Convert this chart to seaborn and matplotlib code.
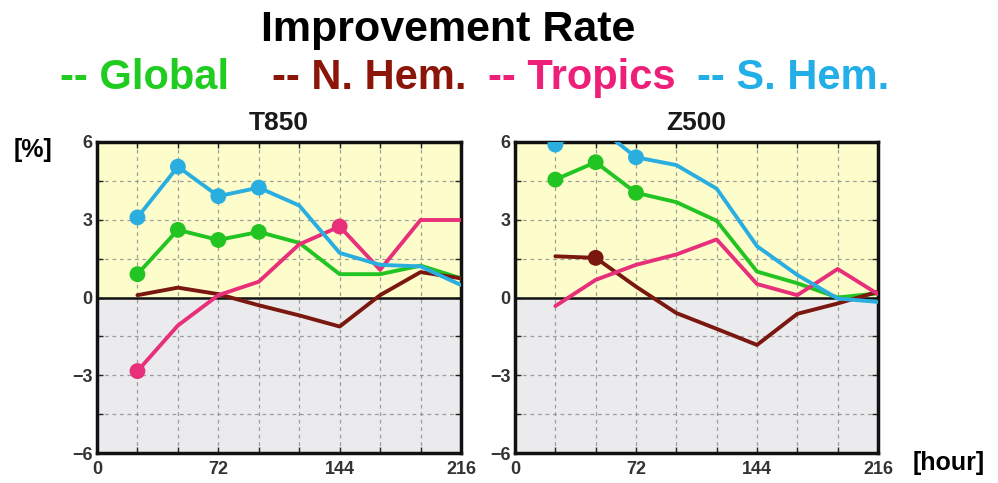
import matplotlib
matplotlib.use("Agg")
import matplotlib.pyplot as plt
import seaborn as sns
import pandas as pd
import numpy as np
from matplotlib.ticker import MultipleLocator

sns.set_theme(style="white")
plt.rcParams['font.family'] = ['Liberation Sans', 'DejaVu Sans']

hours = [24, 48, 72, 96, 120, 144, 168, 192, 216]
regions = ["Global", "N. Hem.", "Tropics", "S. Hem."]

t850_global = [0.9, 2.61, 2.22, 2.53, 2.11, 0.9, 0.9, 1.23, 0.74]
t850_nhem = [0.09, 0.38, 0.13, -0.3, -0.69, -1.12, 0.09, 0.98, 0.74]
t850_tropics = [-2.84, -1.08, 0.09, 0.61, 2.05, 2.74, 1.07, 2.99, 2.99]
t850_shem = [3.09, 5.05, 3.91, 4.24, 3.55, 1.72, 1.26, 1.2, 0.48]

z500_global = [4.55, 5.22, 4.04, 3.68, 2.96, 1.0, 0.55, 0.0, 0.16]
z500_nhem = [1.59, 1.53, 0.42, -0.6, -1.21, -1.83, -0.63, -0.23, 0.22]
z500_tropics = [-0.33, 0.68, 1.26, 1.66, 2.24, 0.52, 0.09, 1.1, 0.13]
z500_shem = [5.9, 6.65, 5.41, 5.11, 4.2, 1.98, 0.87, -0.04, -0.17]

# hours at which a dot is drawn
t850_markers = {"Global": [24, 48, 72, 96], "N. Hem.": [], "Tropics": [24, 144],
                "S. Hem.": [24, 48, 72, 96]}
z500_markers = {"Global": [24, 48, 72], "N. Hem.": [48], "Tropics": [],
                "S. Hem.": [24, 48, 72]}

panels = ["T850", "Z500"]
xticks = [0, 72, 144, 216]
yticks = [-6, -3, 0, 3, 6]

line_colors = {"Global": "#22c422", "N. Hem.": "#7a1810", "Tropics": "#e8307a", "S. Hem.": "#2aaee0"}
legend_colors = {"Global": "#1fcc1f", "N. Hem.": "#8a1508", "Tropics": "#ee1f78", "S. Hem.": "#22aee6"}

data = {
    "T850": {"Global": t850_global, "N. Hem.": t850_nhem, "Tropics": t850_tropics, "S. Hem.": t850_shem},
    "Z500": {"Global": z500_global, "N. Hem.": z500_nhem, "Tropics": z500_tropics, "S. Hem.": z500_shem},
}
markers = {"T850": t850_markers, "Z500": z500_markers}

fig = plt.figure(figsize=(9.98, 4.83), dpi=100)
W, H = 998, 483
axes_px = [(97, 461), (515, 878)]
top_px, bot_px = 142, 453

for (x0, x1), panel in zip(axes_px, panels):
    ax = fig.add_axes([x0 / W, (H - bot_px) / H, (x1 - x0) / W, (bot_px - top_px) / H])
    ax.axhspan(0, 6, color="#fdfdcc", zorder=0)
    ax.axhspan(-6, 0, color="#ebebee", zorder=0)
    rows = []
    for r in regions:
        for h, v in zip(hours, data[panel][r]):
            rows.append({"hour": h, "value": v, "region": r})
    df = pd.DataFrame(rows)
    sns.lineplot(data=df, x="hour", y="value", hue="region", hue_order=regions,
                 palette=line_colors, linewidth=2.8, legend=False, ax=ax, zorder=3)
    mdf = df[[h in markers[panel][r] for h, r in zip(df["hour"], df["region"])]]
    sns.scatterplot(data=mdf, x="hour", y="value", hue="region", hue_order=regions,
                    palette=line_colors, s=130, edgecolor="none", legend=False, ax=ax,
                    zorder=4)
    ax.axhline(0, color="#111111", linewidth=1.8, zorder=2)
    ax.set_xlim(0, 216)
    ax.set_ylim(-6, 6)
    ax.xaxis.set_major_locator(plt.FixedLocator(xticks))
    ax.yaxis.set_major_locator(plt.FixedLocator(yticks))
    ax.xaxis.set_minor_locator(MultipleLocator(24))
    ax.yaxis.set_minor_locator(MultipleLocator(1.5))
    ax.set_axisbelow(True)
    ax.grid(which="both", color="#888888", linestyle=(0, (3, 3)), linewidth=0.9, alpha=0.8)
    ax.tick_params(which="both", direction="in", length=4, width=1, color="#222222",
                   top=True, right=True, bottom=True, left=True)
    ax.tick_params(axis="y", labelsize=13, labelcolor="#333333", pad=3)
    ax.tick_params(axis="x", labelsize=13, labelcolor="#333333", pad=6)
    for lab in ax.get_xticklabels() + ax.get_yticklabels():
        lab.set_fontweight("bold")
    for sp in ax.spines.values():
        sp.set_visible(True)
        sp.set_color("#111111")
        sp.set_linewidth(2.5)
    ax.set_xlabel("")
    ax.set_ylabel("")
    ax.set_title(panel, fontsize=19, fontweight="bold", color="#1a1a1a", pad=9)

fig.text(448 / W, 1 - 30 / H, "Improvement Rate", ha="center", va="center",
         fontsize=31, fontweight="bold", color="black")

leg_x = [60, 272, 488, 697]
for r, xp in zip(regions, leg_x):
    fig.text(xp / W, 1 - 78 / H, "-- " + r, ha="left", va="center", fontsize=30,
             fontweight="bold", color=legend_colors[r])

fig.text(33 / W, 1 - 150 / H, "[%]", ha="center", va="center", fontsize=18,
         fontweight="bold", color="black")
fig.text(949 / W, 1 - 463 / H, "[hour]", ha="center", va="center", fontsize=18,
         fontweight="bold", color="black")

fig.savefig("out.png", dpi=100)
